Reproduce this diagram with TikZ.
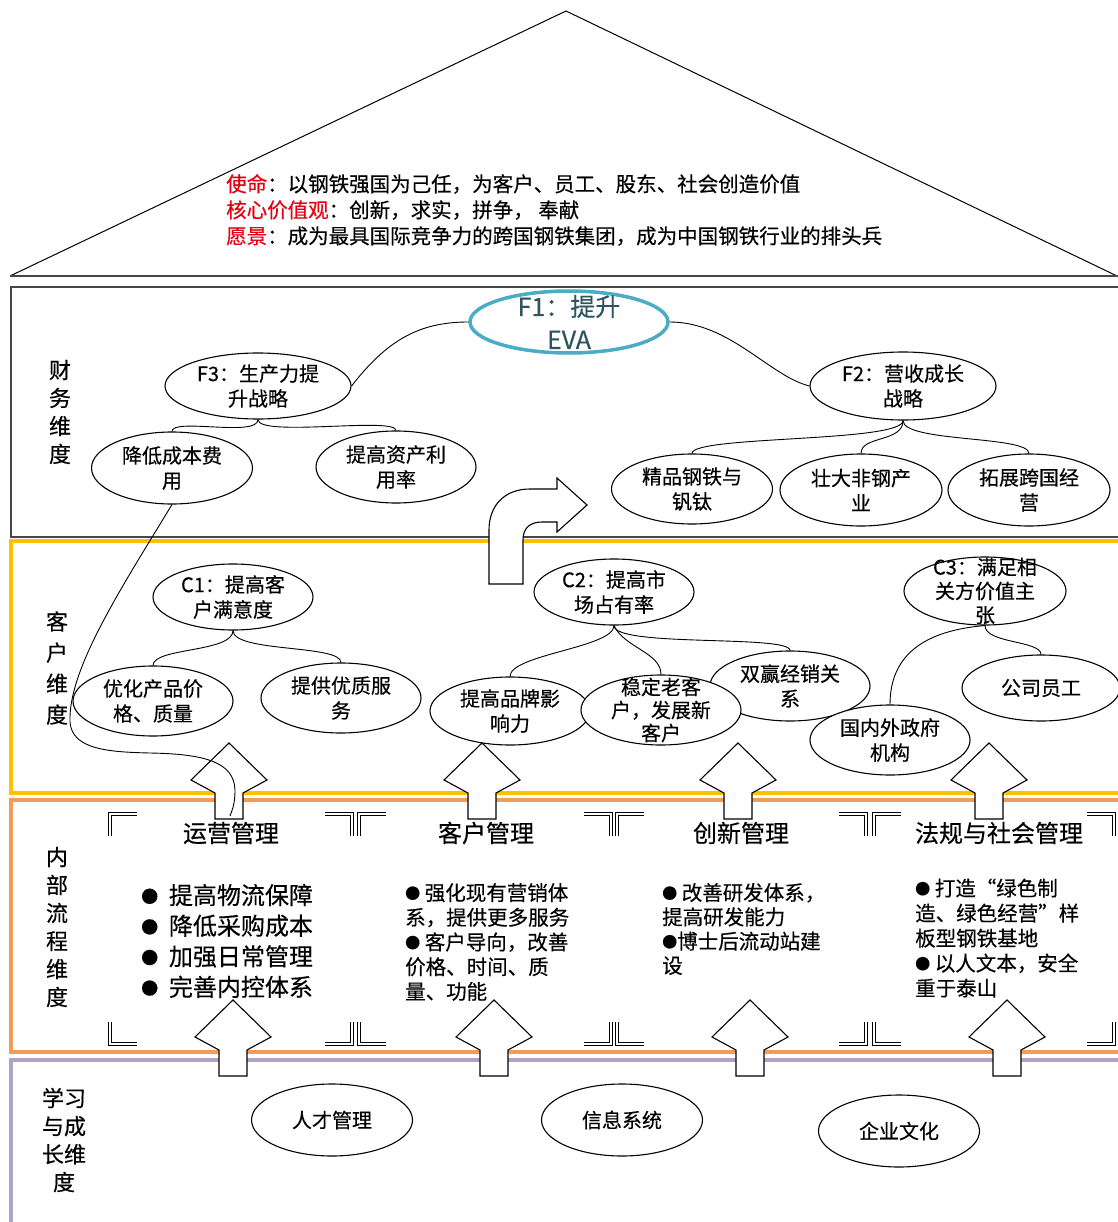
\documentclass[tikz,border=0pt]{standalone}
\usepackage{fontspec}
\setmainfont{Noto Sans CJK SC}[FakeBold=0.35]
\usetikzlibrary{shapes.geometric}
\definecolor{cgold}{RGB}{255,192,0}
\definecolor{corange}{RGB}{244,155,90}
\definecolor{cpurple}{RGB}{178,162,199}
\definecolor{cteal}{RGB}{75,172,198}
\definecolor{ctealtext}{RGB}{45,85,95}
\definecolor{cframe}{RGB}{70,70,70}
\definecolor{cred}{RGB}{230,0,18}
\newcommand\fsz[2]{\fontsize{#1}{#2}\selectfont}
\newcommand\bulA{\raisebox{1.5pt}{\fontsize{17}{17}\selectfont ●}}
\newcommand\bulB{\raisebox{1.5pt}{\fontsize{15}{15}\selectfont ●}}
\begin{document}
\begin{tikzpicture}[x=1pt,y=-1pt,
  oval/.style={ellipse, draw, line width=1.1pt, fill=white, inner sep=0pt},
  otext/.style={font={\fsz{20}{25}}, align=center, inner sep=0pt},
  link/.style={line width=0.9pt},
  blockarrow/.style={draw, line width=1.1pt, fill=white, line join=miter},
  corner/.style={double, double distance=2.6pt, line width=0.9pt, line join=miter},
  vlab/.style={align=center, inner sep=0pt},
  head/.style={font={\fsz{24}{28}}, inner sep=0pt},
  btext/.style={align=left, anchor=west, inner sep=0pt},
]
\useasboundingbox (0,0) rectangle (1117,1222);
\fill[white] (0,0) rectangle (1117,1222);

% roof
\draw[line width=1pt] (10,276) -- (566,11) -- (1117,276);
\draw[cframe, line width=2pt] (10,276) -- (1130,276);
\node[anchor=west, align=left, font={\fsz{20.5}{26}}, inner sep=0pt] (roof) at (226,210)
 {\textcolor{cred}{使命}：以钢铁强国为己任，为客户、员工、股东、社会创造价值\\
  \textcolor{cred}{核心价值观}：创新，求实，拼争， 奉献\\
  \textcolor{cred}{愿景}：成为最具国际竞争力的跨国钢铁集团，成为中国钢铁行业的排头兵};

% section boxes
\draw[cframe, line width=2pt] (11,287) rectangle (1130,537);
\draw[cgold, line width=4pt] (11,541) rectangle (1130,793);
\draw[corange, line width=4pt] (11,800) rectangle (1130,1052);
\draw[cpurple, line width=3.5pt] (11,1060) rectangle (1130,1240);

% dimension labels
\node[vlab, font={\fsz{22}{28}}] (lf) at (60,412) {财\\务\\维\\度};
\node[vlab, font={\fsz{22}{31}}] (lc) at (57,668) {客\\户\\维\\度};
\node[vlab, font={\fsz{22}{28}}] (li) at (57,927) {内\\部\\流\\程\\维\\度};
\node[vlab, font={\fsz{22}{28}}] (ll) at (64,1140) {学习\\与成\\长维\\度};

% bent arrow
\draw[blockarrow] (489,584) -- (489,530) .. controls (489,505) and (505,489) .. (530,489)
  -- (557,489) -- (557,478) -- (587,505) -- (557,532) -- (557,522) -- (542,522)
  .. controls (530,522) and (523,528) .. (523,540) -- (523,584) -- cycle;

% up arrows
\foreach \cx/\ty in {229/743, 482/743, 738/743, 989/743, 233/1000, 494/1000, 750/1000, 1007/1000}
  \draw[blockarrow] (\cx,\ty) -- (\cx+38,\ty+37) -- (\cx+14,\ty+50) -- (\cx+14,\ty+76)
    -- (\cx-14,\ty+76) -- (\cx-14,\ty+50) -- (\cx-38,\ty+37) -- cycle;

% corner brackets
\foreach \x in {110,359,617,874} {
  \draw[corner] (\x,836) -- (\x,814) -- (\x+27,814);
  \draw[corner] (\x,1022) -- (\x,1044) -- (\x+27,1044);
}
\foreach \x in {352,611,866,1114} {
  \draw[corner] (\x-27,814) -- (\x,814) -- (\x,836);
  \draw[corner] (\x-27,1044) -- (\x,1044) -- (\x,1022);
}

% financial
\node[oval, draw=cteal, line width=3.5pt, minimum width=198pt, minimum height=62pt] (f1) at (569,322) {};
\node[otext, font={\fsz{25}{33}}, text=ctealtext] (f1t) at (f1) {F1：提升\\EVA};
\node[oval, minimum width=186pt, minimum height=66pt] (f3) at (258,386) {};
\node[otext] (f3t) at (f3) {F3：生产力提\\升战略};
\node[oval, minimum width=186pt, minimum height=68pt] (f2) at (903,386) {};
\node[otext] (f2t) at (f2) {F2：营收成长\\战略};
\node[oval, minimum width=161pt, minimum height=72pt] (fa) at (172,468) {};
\node[otext] (fat) at (fa) {降低成本费\\用};
\node[oval, minimum width=160pt, minimum height=72pt] (fb) at (396,467) {};
\node[otext] (fbt) at (fb) {提高资产利\\用率};
\node[oval, minimum width=161pt, minimum height=70pt] (fc) at (692,489) {};
\node[otext] (fct) at (fc) {精品钢铁与\\钒钛};
\node[oval, minimum width=162pt, minimum height=72pt] (fd) at (861,490) {};
\node[otext] (fdt) at (fd) {壮大非钢产\\业};
\node[oval, minimum width=162pt, minimum height=72pt] (fe) at (1029,490) {};
\node[otext] (fet) at (fe) {拓展跨国经\\营};

% customer
\node[oval, minimum width=160pt, minimum height=66pt] (c1) at (233,597) {};
\node[otext] (c1t) at (c1) {C1：提高客\\户满意度};
\node[oval, minimum width=160pt, minimum height=66pt] (c2) at (614,592) {};
\node[otext] (c2t) at (c2) {C2：提高市\\场占有率};
\node[oval, minimum width=162pt, minimum height=68pt] (c3) at (985,591) {};
\node[otext, font={\fsz{20}{24}}] (c3t) at (c3) {C3：满足相\\关方价值主\\张};
\node[oval, minimum width=160pt, minimum height=70pt] (ca) at (153,701) {};
\node[otext] (cat) at (ca) {优化产品价\\格、质量};
\node[oval, minimum width=160pt, minimum height=70pt] (cb) at (341,698) {};
\node[otext] (cbt) at (cb) {提供优质服\\务};
\node[oval, minimum width=160pt, minimum height=68pt] (cc) at (510,711) {};
\node[otext] (cct) at (cc) {提高品牌影\\响力};
\node[oval, minimum width=160pt, minimum height=70pt] (ce) at (790,686) {};
\node[otext] (cet) at (ce) {双赢经销关\\系};
\node[oval, minimum width=160pt, minimum height=70pt] (cd) at (661,710) {};
\node[otext, font={\fsz{20}{23}}] (cdt) at (cd) {稳定老客\\户，发展新\\客户};
\node[oval, minimum width=160pt, minimum height=70pt] (cf) at (890,740) {};
\node[otext] (cft) at (cf) {国内外政府\\机构};
\node[oval, minimum width=158pt, minimum height=66pt] (cg) at (1041,688) {};
\node[otext] (cgt) at (cg) {公司员工};

% internal process
\node[head] (h1) at (231,833) {运营管理};
\node[head] (h2) at (486,833) {客户管理};
\node[head] (h3) at (741,833) {创新管理};
\node[head] (h4) at (999,833) {法规与社会管理};
\node[btext, font={\fsz{24}{30.6}}] (ia) at (141,941) {\bulA\ \ 提高物流保障\\\bulA\ \ 降低采购成本\\\bulA\ \ 加强日常管理\\\bulA\ \ 完善内控体系};
\node[btext, font={\fsz{20.5}{24.7}}] (ib) at (405,942) {\bulB\ 强化现有营销体\\系，提供更多服务\\\bulB\ 客户导向，改善\\价格、时间、质\\量、功能};
\node[btext, font={\fsz{20.5}{24.3}}] (ic) at (662,929) {\bulB\ 改善研发体系，\\提高研发能力\\\bulB 博士后流动站建\\设};
\node[btext, font={\fsz{20.5}{25}}] (id) at (915,938) {\bulB\ 打造“绿色制\\造、绿色经营”样\\板型钢铁基地\\\bulB\ 以人文本，安全\\重于泰山};

% learning
\node[oval, minimum width=161pt, minimum height=72pt] (l1) at (332,1120) {};
\node[otext] (l1t) at (l1) {人才管理};
\node[oval, minimum width=161pt, minimum height=72pt] (l2) at (622,1120) {};
\node[otext] (l2t) at (l2) {信息系统};
\node[oval, minimum width=161pt, minimum height=72pt] (l3) at (899,1131) {};
\node[otext] (l3t) at (l3) {企业文化};

% connectors
\draw[link] (f1.west) .. controls +(-50,0) and +(35,-45) .. (f3.east);
\draw[link] (f1.east) .. controls +(60,0) and +(-40,-10) .. (f2.west);
\draw[link] (f3.south) .. controls +(0,18) and +(0,-14) .. (fa.north);
\draw[link] (f3.south) .. controls +(0,18) and +(0,-14) .. (fb.north);
\draw[link] (f2.south) .. controls +(0,22) and +(0,-18) .. (fc.north);
\draw[link] (f2.south) .. controls +(0,22) and +(0,-18) .. (fd.north);
\draw[link] (f2.south) .. controls +(0,22) and +(0,-18) .. (fe.north);
\draw[link] (c1.south) .. controls +(0,22) and +(0,-18) .. (ca.north);
\draw[link] (c1.south) .. controls +(0,22) and +(0,-18) .. (cb.north);
\draw[link] (c2.south) .. controls +(0,22) and +(0,-22) .. (cc.north);
\draw[link] (c2.south) .. controls +(10,22) and +(0,-22) .. (cd.north);
\draw[link] (c2.south) .. controls +(0,22) and +(0,-16) .. (ce.north);
\draw[link] (c3.south) .. controls +(-60,5) and +(0,-50) .. (cf.north);
\draw[link] (c3.south) .. controls +(0,18) and +(0,-14) .. (cg.north);
\coordinate (lend) at (230,816);
\draw[link] (fa.south) .. controls (120,590) and (68,670) .. (70,722)
  .. controls (72,750) and (110,752) .. (150,753)
  .. controls (205,754) and (234,762) .. (235,790)
  .. controls (235,805) and (232,810) .. (lend);
\end{tikzpicture}
\end{document}
